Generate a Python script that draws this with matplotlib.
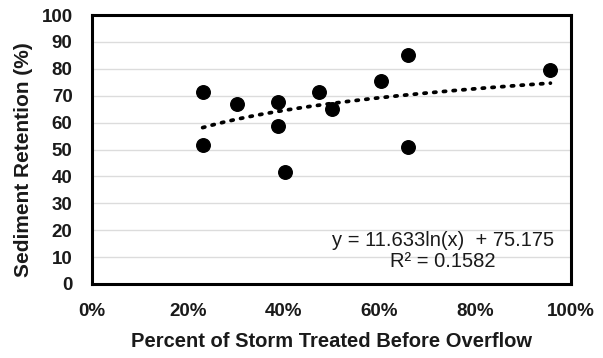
import numpy as np
import matplotlib
matplotlib.use("Agg")
import matplotlib.pyplot as plt
from matplotlib.ticker import FuncFormatter, MultipleLocator

plt.rcParams['font.family'] = ['Liberation Sans', 'DejaVu Sans']

# Percent of storm treated before overflow (fraction) and sediment retention (%)
treated = [0.231, 0.231, 0.303, 0.389, 0.389, 0.402, 0.473, 0.502, 0.603, 0.660, 0.660, 0.957]
retention = [71.4, 51.7, 67.1, 67.8, 58.8, 41.6, 71.3, 65.2, 75.3, 85.0, 51.1, 79.7]

# Logarithmic trendline coefficients
coef_a = 11.633
coef_b = 75.175
r_squared = 0.1582

fig = plt.figure(figsize=(6.03, 3.58), dpi=100)
ax = fig.add_axes([92/603, 1 - 284/358, 479/603, 269/358])

ax.set_xlim(0, 1)
ax.set_ylim(0, 100)
ax.yaxis.set_major_locator(MultipleLocator(10))
ax.xaxis.set_major_locator(MultipleLocator(0.2))
ax.xaxis.set_major_formatter(FuncFormatter(lambda v, p: f"{v*100:.0f}%"))

ax.grid(axis='y', color='#dcdcdc', linewidth=1.0)
ax.set_axisbelow(True)
for s in ax.spines.values():
    s.set_linewidth(2.2)
    s.set_color('black')

ax.tick_params(axis='y', length=0, pad=14, labelsize=13.5)
ax.tick_params(axis='x', length=0, pad=14, labelsize=13.5)
for lbl in ax.get_xticklabels() + ax.get_yticklabels():
    lbl.set_fontweight('bold')
    lbl.set_color('#1a1a1a')

ax.scatter(treated, retention, s=95, color='black', zorder=3)

xt = np.linspace(min(treated), max(treated), 200)
ax.plot(xt, coef_a * np.log(xt) + coef_b, color='black', linewidth=2.7,
        linestyle=(0, (0.6, 2.0)), dash_capstyle='round', zorder=2)

ax.text(0.733, 16.3, f"y = {coef_a:.3f}ln(x)  + {coef_b:.3f}", ha='center', va='center',
        fontsize=14.5, color='#1a1a1a')
ax.text(0.733, 8.3, f"R² = {r_squared:.4f}", ha='center', va='center', fontsize=14.5,
        color='#1a1a1a')

ax.set_xlabel("Percent of Storm Treated Before Overflow", fontsize=14.5, fontweight='bold',
              color='#1a1a1a')
ax.set_ylabel("Sediment Retention (%)", fontsize=15, fontweight='bold', color='#1a1a1a')
ax.xaxis.set_label_coords(0.5, -0.178)
ax.yaxis.set_label_coords(-0.123, 0.461)

fig.savefig("out.png", dpi=100)
